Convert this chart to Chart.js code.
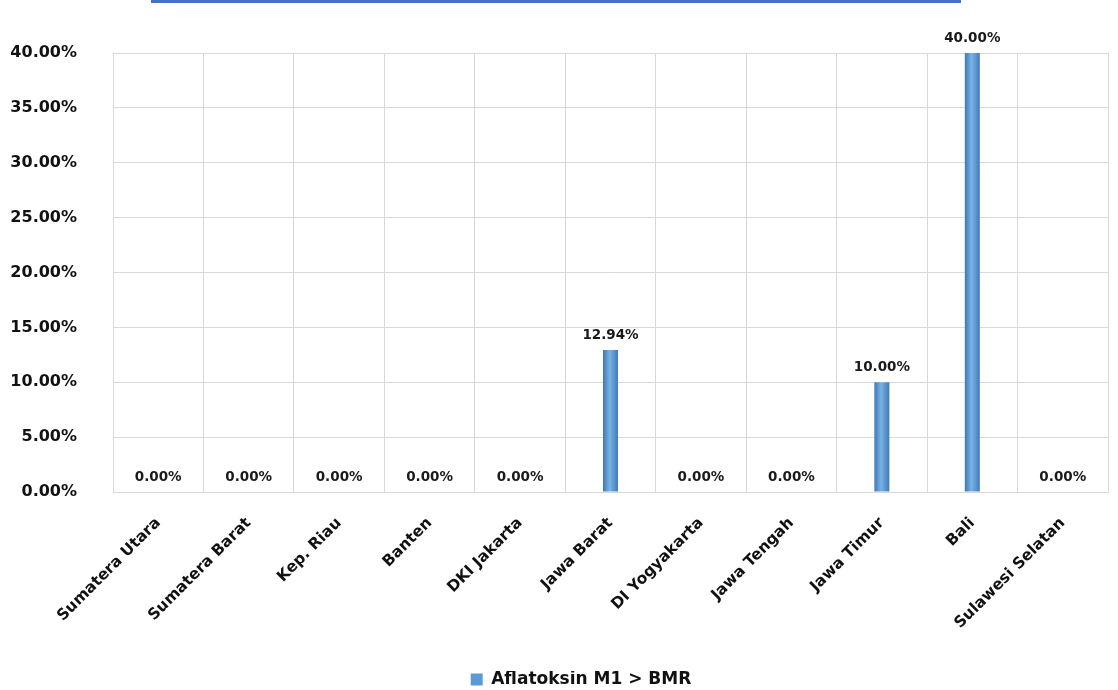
<!DOCTYPE html>
<html>
<head>
<meta charset="utf-8">
<script src="https://cdn.jsdelivr.net/npm/chart.js@4/dist/chart.umd.min.js"></script>
<style>
  html, body { margin: 0; padding: 0; background: #fff; }
  #wrap { position: relative; width: 1118px; height: 690px; }
  #topbar { position: absolute; left: 151px; top: 0; width: 810px; height: 3px; background: #4472c4; }
</style>
</head>
<body>
<div id="wrap">
  <div id="topbar"></div>
  <canvas id="myChart" width="1118" height="690"></canvas>
</div>
<script>
var provinces = ['Sumatera Utara', 'Sumatera Barat', 'Kep. Riau', 'Banten', 'DKI Jakarta', 'Jawa Barat',
    'DI Yogyakarta', 'Jawa Tengah', 'Jawa Timur', 'Bali', 'Sulawesi Selatan'];
var aflatoksin = [0, 0, 0, 0, 0, 12.94, 0, 0, 10, 40, 0];
var seriesName = 'Aflatoksin M1 > BMR';
var yMin = 0, yMax = 40, yStep = 5;

var fontFamily = '"DejaVu Sans", sans-serif';

// value labels above each bar
var barLabels = {
    id: 'barLabels',
    afterDatasetsDraw: function(chart) {
        var ctx = chart.ctx;
        var meta = chart.getDatasetMeta(0);
        ctx.save();
        ctx.font = 'bold 13.5px ' + fontFamily;
        ctx.fillStyle = '#1a1a1a';
        ctx.textAlign = 'center';
        ctx.textBaseline = 'alphabetic';
        meta.data.forEach(function(bar, i) {
            ctx.fillText(aflatoksin[i].toFixed(2) + '%', bar.x, bar.y - 11);
        });
        ctx.restore();
    }
};

// legend sits a bit right of centre and lower in the original
var legendNudge = {
    id: 'legendNudge',
    afterLayout: function(chart) {
        var lg = chart.legend;
        lg.left += 22; lg.right += 22;
        lg.top += 8; lg.bottom += 8;
    }
};

// cylinder look: darker edges, lighter middle
function barFill(c) {
    var el = c.chart.getDatasetMeta(0).data[c.dataIndex];
    if (!el || !isFinite(el.x) || !el.width) return '#5b9bd5';
    var g = c.chart.ctx.createLinearGradient(el.x - el.width / 2, 0, el.x + el.width / 2, 0);
    g.addColorStop(0, '#3d78b5');
    g.addColorStop(0.45, '#79b2e6');
    g.addColorStop(1, '#3f7bb8');
    return g;
}

var ctx = document.getElementById('myChart').getContext('2d');
var myChart = new Chart(ctx, {
    type: 'bar',
    data: {
        labels: provinces,
        datasets: [{
            label: seriesName,
            data: aflatoksin,
            backgroundColor: barFill,
            borderWidth: 0,
            maxBarThickness: 15
        }]
    },
    options: {
        responsive: false,
        animation: false,
        layout: { padding: { left: 10, right: 10, top: 53, bottom: 0 } },
        scales: {
            x: {
                grid: { color: '#d9d9d9', drawTicks: false },
                border: { color: '#d9d9d9' },
                ticks: {
                    color: '#111',
                    font: { family: fontFamily, size: 15.5, weight: 'bold' },
                    maxRotation: 45,
                    minRotation: 45,
                    padding: 22
                },
                afterFit: function(scale) {
                    scale.height = 171;
                    scale.paddingLeft = 0;
                }
            },
            y: {
                min: yMin,
                max: yMax,
                grid: { color: '#d9d9d9', drawTicks: false },
                border: { display: false },
                ticks: {
                    stepSize: yStep,
                    color: '#111',
                    padding: 36,
                    font: { family: fontFamily, size: 16, weight: 'bold' },
                    callback: function(v) { return v.toFixed(2) + '%'; }
                },
                afterFit: function(scale) {
                    scale.width = 103;
                }
            }
        },
        plugins: {
            legend: {
                position: 'bottom',
                labels: {
                    color: '#111',
                    boxWidth: 12,
                    boxHeight: 12,
                    padding: 0,
                    font: { family: fontFamily, size: 17, weight: 'bold' },
                    generateLabels: function(chart) {
                        var items = Chart.defaults.plugins.legend.labels.generateLabels(chart);
                        items.forEach(function(it) {
                            it.fillStyle = '#5b9bd5';
                            it.strokeStyle = '#5b9bd5';
                            it.lineWidth = 0;
                        });
                        return items;
                    }
                }
            },
            tooltip: { enabled: false }
        }
    },
    plugins: [barLabels, legendNudge]
});
// second pass so the bar gradients know where the bars are
myChart.update();
</script>
</body>
</html>
